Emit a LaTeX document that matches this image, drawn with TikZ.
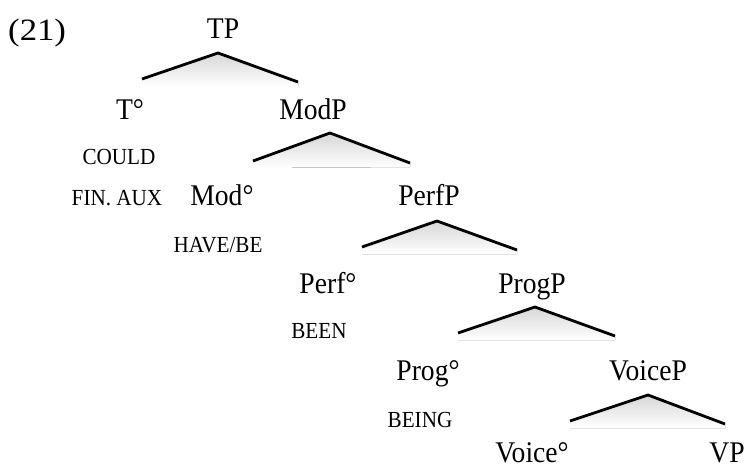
\documentclass[tikz,border=0pt]{standalone}
\usepackage{fontspec}
\setmainfont{Liberation Serif}[FakeStretch=0.92]
\newfontfamily\numfont{Liberation Serif}[FakeStretch=1.12]
\begin{document}
\begin{tikzpicture}[x=1pt,y=-1pt,
  cat/.style={anchor=base, inner sep=0pt, font=\fontsize{30}{32}\selectfont},
  lex/.style={anchor=base, inner sep=0pt, font=\fontsize{23}{25}\selectfont},
  branch/.style={line width=2.8pt, line join=miter, line cap=butt},
  shade/.style={top color=black!16, bottom color=white, draw=none}]
\useasboundingbox (0,0) rectangle (745,468);

% example number
\node[anchor=base west, inner sep=0pt, font=\numfont\fontsize{31}{33}\selectfont] (num) at (8,41) {(21)};

% category labels
\node[cat] (tp) at (223,39) {TP};
\node[cat] (t) at (130,120) {T°};
\node[cat] (modp) at (313,120) {ModP};
\node[cat] (mod) at (222,206) {Mod°};
\node[cat] (perfp) at (429,206) {PerfP};
\node[cat] (perf) at (328,293) {Perf°};
\node[cat] (progp) at (532,293) {ProgP};
\node[cat] (prog) at (428,380) {Prog°};
\node[cat] (voicep) at (648,380) {VoiceP};
\node[cat] (voice) at (532,462) {Voice°};
\node[cat] (vp) at (727,462) {VP};

% lexical labels
\node[lex] (could) at (119,165) {COULD};
\node[lex] (finaux) at (117,206) {FIN. AUX};
\node[lex] (havebe) at (218,252) {HAVE/BE};
\node[lex] (been) at (319,338) {BEEN};
\node[lex] (being) at (420,427) {BEING};

% branch points
\coordinate (a1) at (218,53);  \coordinate (l1) at (142,79);  \coordinate (r1) at (298,82);
\coordinate (a2) at (330,133); \coordinate (l2) at (253,161); \coordinate (r2) at (410,163);
\coordinate (a3) at (437,221); \coordinate (l3) at (362,247); \coordinate (r3) at (517,250);
\coordinate (a4) at (535,307); \coordinate (l4) at (458,333); \coordinate (r4) at (615,336);
\coordinate (a5) at (648,395); \coordinate (l5) at (570,421); \coordinate (r5) at (725,424);

\foreach \i in {1,...,5}{
  \fill[shade] (l\i) -- (a\i) -- (r\i) -- ([yshift=-4pt]r\i) -- ([yshift=-7pt]l\i) -- cycle;
  \draw[branch] (l\i) -- (a\i) -- (r\i);
}
\end{tikzpicture}
\end{document}
